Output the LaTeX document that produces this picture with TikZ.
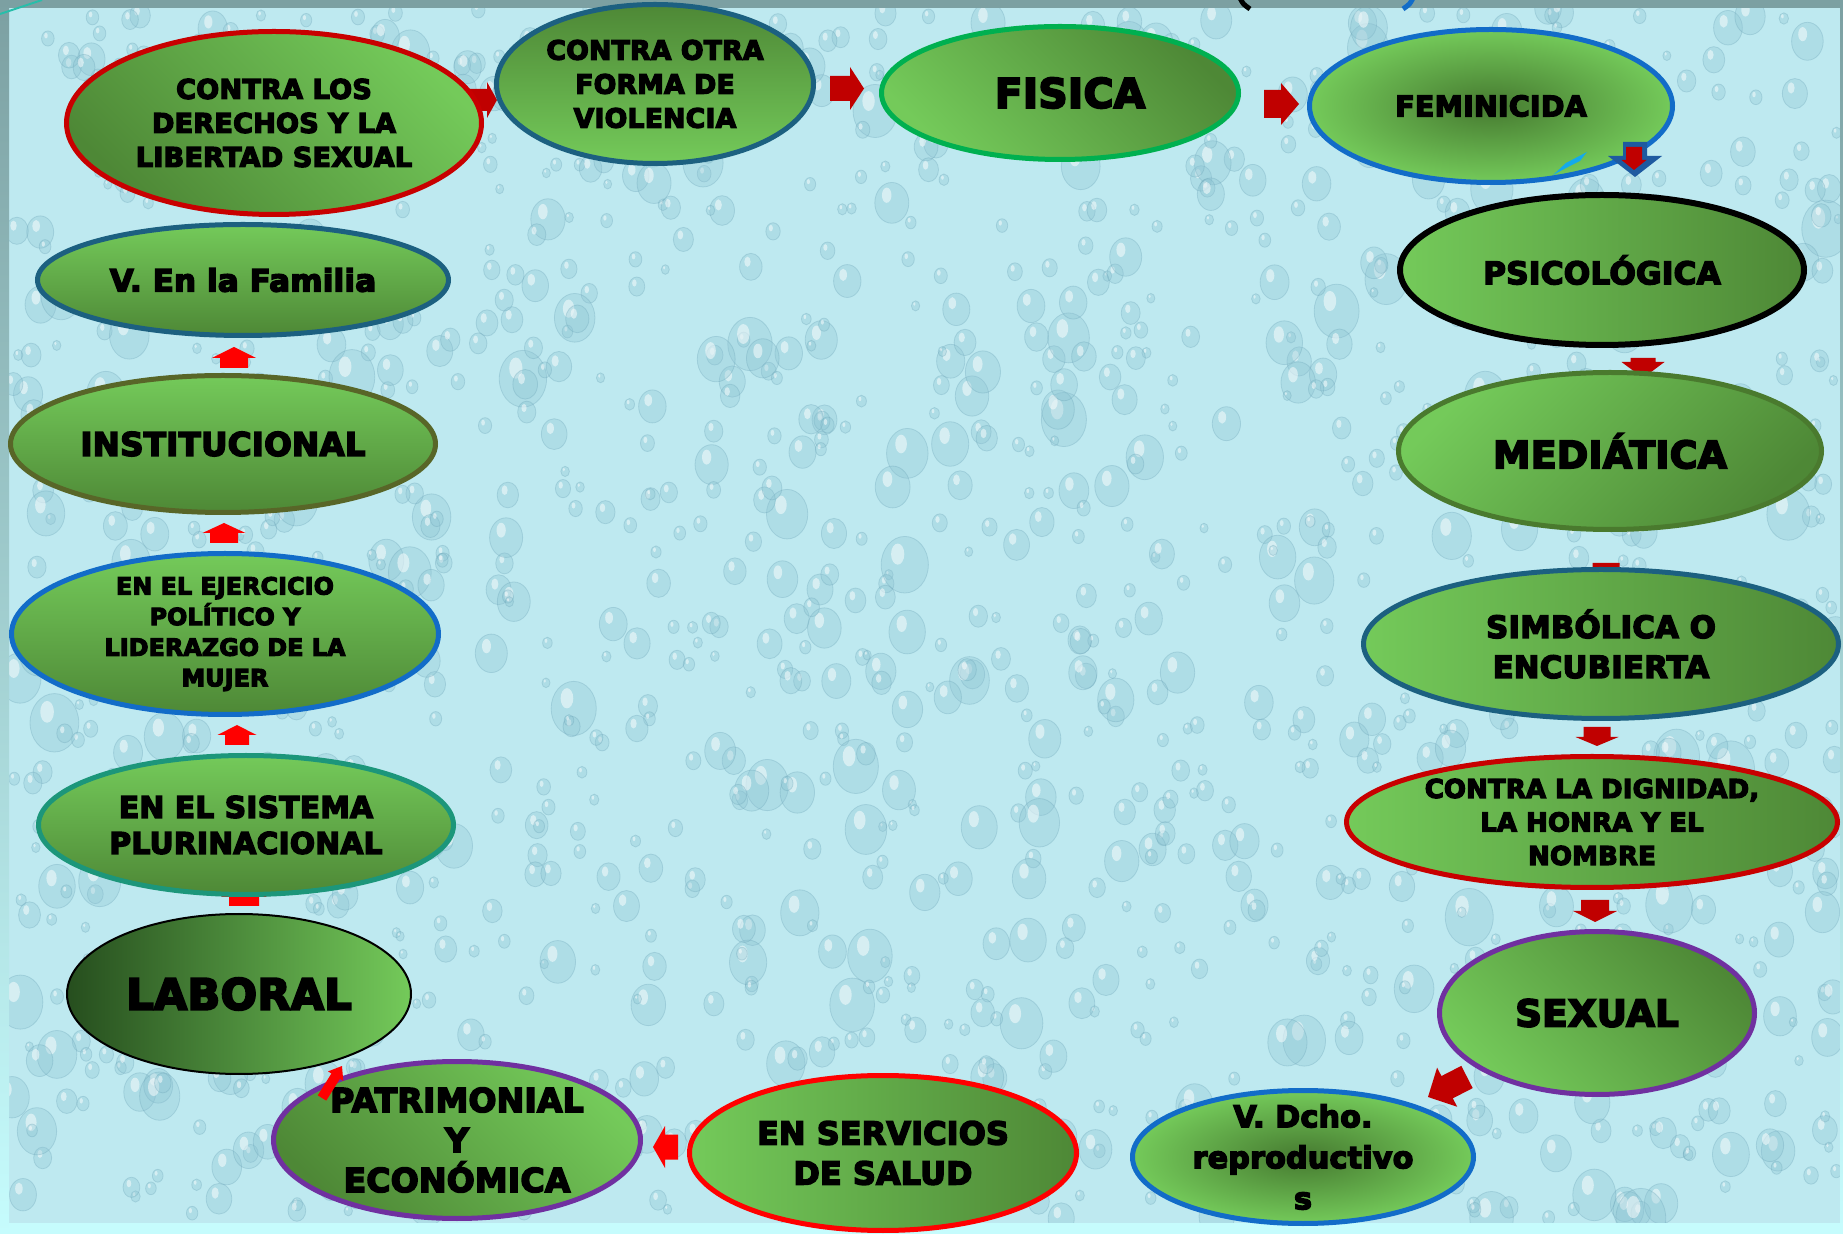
\documentclass[tikz,border=0pt]{standalone}
\usepackage{fontspec}
\newfontfamily\heavy{DejaVu Sans Bold}[FakeBold=5, LetterSpace=1]
\usetikzlibrary{shapes.geometric,calc}
\pgfdeclarelayer{texture}\pgfdeclarelayer{arrows}\pgfdeclarelayer{front}
\pgfsetlayers{texture,arrows,main,front}
\definecolor{gl}{RGB}{116,202,90}
\definecolor{gd}{RGB}{78,136,54}
\definecolor{gc}{RGB}{70,122,48}
\definecolor{gdd}{RGB}{38,78,30}
\definecolor{bdred}{RGB}{200,0,0}
\definecolor{bred}{RGB}{255,0,0}
\definecolor{ardk}{RGB}{192,0,0}
\definecolor{bteal}{RGB}{28,96,128}
\definecolor{bgreen}{RGB}{0,176,80}
\definecolor{bblue}{RGB}{18,108,200}
\definecolor{bdgreen}{RGB}{74,122,46}
\definecolor{bpurple}{RGB}{112,48,160}
\definecolor{btealg}{RGB}{28,150,122}
\definecolor{bolive}{RGB}{88,102,40}
\definecolor{stripgray}{RGB}{124,160,162}
\definecolor{stripcyan}{RGB}{198,252,253}
\definecolor{bgblue}{RGB}{190,233,240}
\definecolor{dropdk}{RGB}{140,195,210}
\definecolor{droprim}{RGB}{105,162,182}
\definecolor{arblue}{RGB}{30,90,160}
\definecolor{slashc}{RGB}{20,170,235}
\definecolor{tealline}{RGB}{40,190,170}
% block arrow: style, tail, tip, shaft half width, head half width, head length
\newcommand{\blockarrow}[6]{%
  \coordinate (bA) at (#2);
  \coordinate (bB) at (#3);
  \coordinate (bH) at ($(bB)!#6!(bA)$);
  \fill[#1] ($(bA)!#4!90:(bB)$) -- ($(bH)!#4!90:(bB)$) -- ($(bH)!#5!90:(bB)$) -- (bB)
    -- ($(bH)!#5!-90:(bB)$) -- ($(bH)!#4!-90:(bB)$) -- ($(bA)!#4!-90:(bB)$) -- cycle;}
\tikzset{
  ell/.style={ellipse, inner sep=-40pt, outer sep=0pt, line width=2.5pt, align=center, text=black},
  dk/.style={top color=gd, bottom color=gl, shading angle=#1},
  rad/.style={inner color=gc, outer color=gl},
  fs/.style 2 args={font={\heavy\fontsize{#1pt}{#2pt}\selectfont}}
}
\begin{document}
\begin{tikzpicture}[x=0.5pt,y=-0.5pt]
\useasboundingbox (0,0) rectangle (1843,1234);
% ---------- background ----------
\begin{pgfonlayer}{texture}
\fill[bgblue] (0,0) rectangle (1843,1234);
\begin{scope}
\clip (9,8) rectangle (1840,1223);
\pgfmathsetseed{4242}
\foreach \k in {1,...,1400}{
  \pgfmathsetmacro\px{9+1831*rnd}
  \pgfmathsetmacro\py{8+1215*rnd}
  \pgfmathsetmacro\dr{4+22*rnd*rnd}
  \pgfmathsetmacro\rxa{0.5*\dr}
  \pgfmathsetmacro\rya{0.6*\dr}
  \pgfmathsetmacro\rxb{0.14*\dr}
  \fill[dropdk, opacity=0.3] (\px,\py) ellipse [x radius=\rxa pt, y radius=\rya pt];
  \draw[droprim, opacity=0.3, line width=0.4pt] (\px,\py) ellipse [x radius=\rxa pt, y radius=\rya pt];
  \fill[white, opacity=0.5] (\px-0.3*\dr,\py-0.45*\dr) ellipse [x radius=\rxb pt, y radius=1.6*\rxb pt];
}
\end{scope}
\fill[stripgray] (0,0) rectangle (1843,8);
\shade[top color=stripgray, bottom color=stripcyan] (0,0) rectangle (9,1234);
\shade[top color=stripgray, bottom color=stripcyan] (1840,0) rectangle (1843,1234);
\fill[stripcyan] (9,1223) rectangle (1843,1234);
\draw[black, line width=2.5pt] (1240,-2) .. controls (1243,4) .. (1250,9);
\draw[bblue, line width=2.5pt] (1413,-2) .. controls (1410,4) .. (1403,9);
\draw[tealline, line width=1pt] (0,14) -- (42,0);
\end{pgfonlayer}
% ---------- ellipses ----------
\node[ell, draw=bdred, dk=135, minimum width=207.5pt, minimum height=91.5pt, fs={13.5}{17}] (a) at (274,123) {CONTRA LOS\\DERECHOS Y LA\\LIBERTAD SEXUAL};
\node[ell, draw=bteal, dk=0, minimum width=158.5pt, minimum height=79.5pt, fs={13.3}{17}] (b) at (655,84) {CONTRA OTRA\\FORMA DE\\VIOLENCIA};
\node[ell, draw=bgreen, dk=-45, minimum width=178.5pt, minimum height=66.5pt, fs={20.3}{24}] (c) at (1060,93) {\hspace*{10pt}FISICA};
\node[ell, draw=bblue, rad, minimum width=181.5pt, minimum height=76.5pt, fs={14.2}{17}] (d) at (1491,106) {FEMINICIDA};
\node[ell, draw=black, line width=3pt, dk=-90, minimum width=202pt, minimum height=75pt, fs={15.5}{18}] (e) at (1602,270) {PSICOLÓGICA};
\node[ell, draw=bdgreen, dk=-135, minimum width=211.5pt, minimum height=78.5pt, fs={18.8}{22}] (f) at (1610,451) {MEDIÁTICA};
\node[ell, draw=bteal, dk=-90, minimum width=237.5pt, minimum height=74.5pt, fs={15.3}{20}] (g) at (1601,644) {SIMBÓLICA O\\ENCUBIERTA};
\node[ell, draw=bdred, dk=-90, minimum width=245.5pt, minimum height=65.5pt, fs={12.9}{16.75}] (h) at (1592,822) {CONTRA LA DIGNIDAD,\\LA HONRA Y EL\\NOMBRE};
\node[ell, draw=bpurple, dk=-45, minimum width=157.5pt, minimum height=81.5pt, fs={18.5}{22}] (i) at (1597,1013) {SEXUAL};
\node[ell, draw=bblue, rad, minimum width=170.5pt, minimum height=66.5pt, fs={15}{20.5}] (j) at (1303,1157) {V. Dcho.\\reproductivo\\s};
\node[ell, draw=bred, dk=-90, minimum width=193.5pt, minimum height=77.5pt, fs={15.8}{20}] (k) at (883,1153) {EN SERVICIOS\\DE SALUD};
\node[ell, draw=bpurple, dk=135, minimum width=183.5pt, minimum height=78.5pt, fs={16.4}{20}] (l) at (457,1140) {PATRIMONIAL\\Y\\ECONÓMICA};
\node[ell, draw=black, line width=1pt, top color=gdd, bottom color=gl, shading angle=90, minimum width=172pt, minimum height=80pt, fs={21.4}{24}] (m) at (239,994) {LABORAL};
\node[ell, draw=btealg, dk=180, minimum width=207.5pt, minimum height=69.5pt, fs={14.8}{18}] (n) at (246,825) {EN EL SISTEMA\\PLURINACIONAL};
\node[ell, draw=bblue, dk=180, minimum width=213.5pt, minimum height=80.5pt, fs={11.8}{15.3}] (o) at (225,634) {EN EL EJERCICIO\\POLÍTICO Y\\LIDERAZGO DE LA\\MUJER};
\node[ell, draw=bolive, dk=180, minimum width=212.5pt, minimum height=68.5pt, fs={16.2}{18}] (p) at (223,444) {INSTITUCIONAL};
\node[ell, draw=bteal, dk=180, minimum width=205.5pt, minimum height=55.5pt, fs={15.4}{18}] (q) at (243,280) {V. En la Familia};
% ---------- arrows behind ----------
\begin{pgfonlayer}{arrows}
\blockarrow{ardk}{$(a)+(196,-23)$}{$(b)+(-158,16)$}{5.5pt}{9pt}{5pt}
\blockarrow{ardk}{$(b)+(175,4.5)$}{$(c)+(-196,-4.5)$}{6.25pt}{10.75pt}{7pt}
\blockarrow{ardk}{$(c)+(204,11)$}{$(d)+(-192,-2)$}{7pt}{10.5pt}{9pt}
\blockarrow{ardk}{$(e)+(41,88)$}{$(f)+(33,-73)$}{6.25pt}{10.75pt}{8pt}
\blockarrow{ardk}{$(f)+(-4,112)$}{$(g)+(5,-44)$}{6.75pt}{11pt}{7pt}
\blockarrow{ardk}{$(g)+(-4,83)$}{$(h)+(5,-76)$}{6.75pt}{10.75pt}{4.5pt}
\blockarrow{ardk}{$(h)+(3,78)$}{$(i)+(-2,-91)$}{7pt}{11pt}{5.5pt}
\blockarrow{ardk}{$(i)+(-130,64)$}{$(j)+(125,-60)$}{6.25pt}{11pt}{10.75pt}
\blockarrow{bred}{$(k)+(-205,-6)$}{$(l)+(196,7)$}{6.25pt}{10.5pt}{6pt}
\blockarrow{bred}{$(m)+(5,-88)$}{$(n)+(-2,56)$}{7.5pt}{11.5pt}{8pt}
\blockarrow{bred}{$(n)+(-9,-80)$}{$(o)+(12,91)$}{6pt}{9.75pt}{5pt}
\blockarrow{bred}{$(o)+(-1,-91)$}{$(p)+(1,79)$}{7pt}{10.75pt}{5pt}
\blockarrow{bred}{$(p)+(11,-76)$}{$(q)+(-9,67)$}{7pt}{11pt}{5.5pt}
\end{pgfonlayer}
% ---------- arrows in front ----------
\begin{pgfonlayer}{front}
\blockarrow{arblue}{$(d)+(144,36)$}{$(e)+(33,-93)$}{6pt}{13.5pt}{10.5pt}
\blockarrow{ardk}{$(d)+(143,41)$}{$(e)+(32,-100)$}{4pt}{6.25pt}{5pt}
\blockarrow{bred}{$(l)+(-135,-42)$}{$(m)+(103,72)$}{2.5pt}{4.5pt}{6pt}
\fill[slashc] (1553,175) -- (1566,163) -- (1587,152) -- (1580,161) -- (1568,167) -- cycle;
\end{pgfonlayer}
\end{tikzpicture}
\end{document}
